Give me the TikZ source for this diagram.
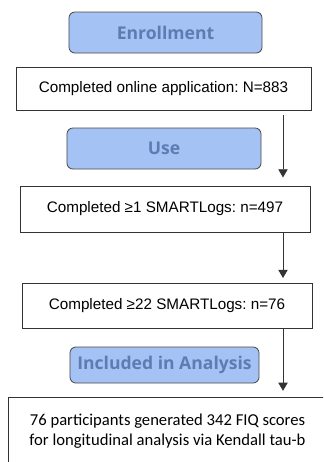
\documentclass[tikz,border=0pt]{standalone}
\usepackage{fontspec}
\setmainfont{Liberation Sans}
\newfontfamily\headfont{Open Sans}
\newfontfamily\notefont{Carlito}
\usepackage{xcolor}
\usetikzlibrary{arrows.meta, positioning}
\frenchspacing
\definecolor{phasefill}{HTML}{A4C2F4}
\definecolor{phasetext}{RGB}{92,124,178}
\definecolor{phaseline}{HTML}{4A4A4A}
\tikzset{
  phase/.style={draw=phaseline, fill=phasefill, rounded corners=5pt, line width=0.7pt,
    font=\headfont\bfseries\fontsize{15}{17}\selectfont, text=phasetext, inner sep=0pt},
  countbox/.style={draw=black!80, fill=white, line width=0.6pt, inner sep=0pt,
    font=\fontsize{13}{15}\selectfont},
  flow/.style={draw=black!80, line width=0.7pt, -{Triangle[length=7pt,width=8pt]}}
}
\begin{document}
\begin{tikzpicture}[x=0.03cm, y=-0.03cm]
        % Canvas
        \useasboundingbox (0,0) rectangle (323,462);
        \clip (0,0) rectangle (323,462);
        \fill[white] (0,0) rectangle (323,462);
        % Phases and counts
        \node[phase, minimum width=5.79cm, minimum height=1.23cm] (enroll) at (165.5,32.5) {Enrollment};
        \node[countbox, minimum width=8.85cm, minimum height=1.29cm] (online) at (163.5,88.5) {Completed online application: N=883};
        \node[phase, minimum width=5.82cm, minimum height=1.23cm] (use) at (164,148.5) {Use};
        \node[countbox, minimum width=8.7cm, minimum height=1.38cm] (smartone) at (165,209) {Completed ≥1 SMARTLogs: n=497};
        \node[countbox, minimum width=8.7cm, minimum height=1.35cm] (smarttwo) at (167,305.5) {Completed ≥22 SMARTLogs: n=76};
        \node[phase, minimum width=5.67cm, minimum height=1.08cm] (incl) at (164.5,365) {Included in Analysis};
        \node[countbox, minimum width=9.57cm, minimum height=2.04cm, align=center,
          font=\notefont\fontsize{14.2}{17.5}\selectfont] (final) at (167.5,431)
          {76 participants generated 342 FIQ scores\\for longitudinal analysis via Kendall tau-b};
        % Arrows
        \coordinate (col) at (283,0);
        \draw[flow, shorten <=4pt, shorten >=7pt] (online.south -| col) -- (smartone.north -| col);
        \draw[flow, shorten >=4pt] (smartone.south -| col) -- (smarttwo.north -| col);
        \draw[flow, shorten >=5pt] (smarttwo.south -| col) -- (final.north -| col);
    \end{tikzpicture}
\end{document}
